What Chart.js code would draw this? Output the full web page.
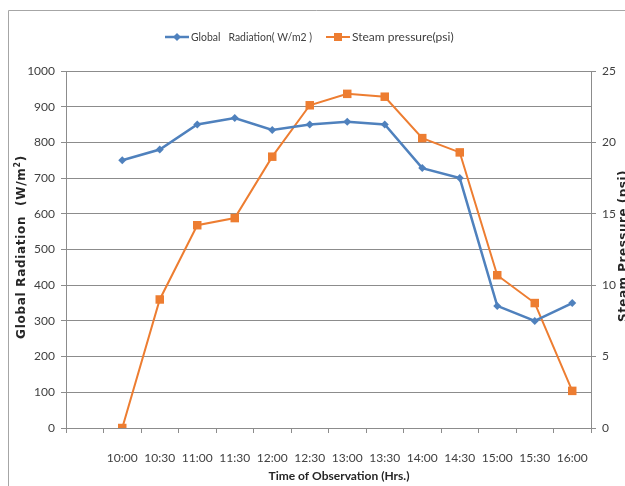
<!DOCTYPE html>
<html>
<head>
<meta charset="utf-8">
<script src="https://cdn.jsdelivr.net/npm/chart.js@4/dist/chart.umd.min.js"></script>
<style>
  html, body { margin: 0; padding: 0; background: #ffffff; }
  #wrap { width: 625px; height: 486px; position: relative; }
</style>
</head>
<body>
<div id="wrap"><canvas id="c" width="625" height="486"></canvas></div>
<script>
// Observation times (first slot is an empty lead-in category)
const times = ['', '10:00', '10:30', '11:00', '11:30', '12:00', '12:30', '13:00',
               '13:30', '14:00', '14:30', '15:00', '15:30', '16:00'];
// Global radiation, W/m2
const radiation = [null, 750, 780, 850, 868, 835, 850, 858, 850, 728, 700, 342, 300, 350];
// Steam pressure, psi
const pressure = [null, 0, 9.0, 14.2, 14.7, 19.0, 22.6, 23.4, 23.2, 20.3, 19.3, 10.7, 8.75, 2.6];

const radiationLabel = 'Global   Radiation( W/m2 )';
const pressureLabel = 'Steam pressure(psi)';
const xTitle = 'Time of Observation (Hrs.)';
const leftTitle = ['Global Radiation  (W/m', '2', ')'];
const rightTitle = 'Steam Pressure (psi)';

const BLUE = '#4F81BD';
const ORANGE = '#ED7D31';
const GRID = '#8C8C8C';
const TEXT = '#404040';
const baseFont = 'Lato, "Open Sans", sans-serif';
const titleFont = 'bold 12px "DejaVu Sans", Verdana, sans-serif';
const supFont = 'bold 8px "DejaVu Sans", Verdana, sans-serif';

// Frame, legend and axis titles drawn on top of the chart
const decorations = {
  id: 'decorations',
  afterDraw(chart) {
    const ctx = chart.ctx;
    ctx.save();

    // outer frame (top and left edges)
    ctx.strokeStyle = '#A6A6A6';
    ctx.lineWidth = 1;
    ctx.beginPath();
    ctx.moveTo(8.5, 486);
    ctx.lineTo(8.5, 10.5);
    ctx.lineTo(625, 10.5);
    ctx.stroke();

    // legend
    const ly = 37;
    ctx.lineWidth = 2.5;
    ctx.strokeStyle = BLUE;
    ctx.beginPath(); ctx.moveTo(165, ly); ctx.lineTo(189, ly); ctx.stroke();
    ctx.fillStyle = BLUE;
    ctx.beginPath();
    ctx.moveTo(177, ly - 4); ctx.lineTo(181, ly); ctx.lineTo(177, ly + 4); ctx.lineTo(173, ly);
    ctx.closePath(); ctx.fill();

    ctx.lineWidth = 2;
    ctx.strokeStyle = ORANGE;
    ctx.beginPath(); ctx.moveTo(326, ly); ctx.lineTo(350, ly); ctx.stroke();
    ctx.fillStyle = ORANGE;
    ctx.fillRect(334, ly - 4, 8, 8);

    ctx.font = '12px ' + baseFont;
    ctx.fillStyle = TEXT;
    ctx.textBaseline = 'middle';
    ctx.textAlign = 'left';
    ctx.fillText(radiationLabel, 191, ly, 121);
    ctx.fillText(pressureLabel, 352, ly, 128);

    // x axis title
    ctx.font = 'bold 12px ' + baseFont;
    ctx.fillStyle = '#262626';
    ctx.textAlign = 'center';
    ctx.fillText(xTitle, 339, 476, 164);

    // left axis title with superscript
    ctx.save();
    ctx.translate(22, 247);
    ctx.rotate(-Math.PI / 2);
    ctx.letterSpacing = '0.7px';
    ctx.font = titleFont;
    const w0 = ctx.measureText(leftTitle[0]).width;
    ctx.font = supFont;
    const w1 = ctx.measureText(leftTitle[1]).width;
    ctx.font = titleFont;
    const w2 = ctx.measureText(leftTitle[2]).width;
    let x = -(w0 + w1 + w2) / 2;
    ctx.textAlign = 'left';
    ctx.fillText(leftTitle[0], x, 0);
    x += w0;
    ctx.font = supFont;
    ctx.fillText(leftTitle[1], x, -4);
    x += w1;
    ctx.font = titleFont;
    ctx.fillText(leftTitle[2], x, 0);
    ctx.restore();

    // right axis title (reads bottom to top, runs off the edge)
    ctx.save();
    ctx.translate(624, 246);
    ctx.rotate(-Math.PI / 2);
    ctx.letterSpacing = '0.5px';
    ctx.font = titleFont;
    ctx.textAlign = 'center';
    ctx.fillText(rightTitle, 0, 0);
    ctx.restore();

    ctx.restore();
  }
};

new Chart(document.getElementById('c'), {
  type: 'line',
  data: {
    labels: times,
    datasets: [
      {
        label: radiationLabel,
        data: radiation,
        yAxisID: 'y',
        borderColor: BLUE,
        backgroundColor: BLUE,
        borderWidth: 2.5,
        pointStyle: 'rectRot',
        pointRadius: 4,
        pointBorderWidth: 0,
        tension: 0
      },
      {
        label: pressureLabel,
        data: pressure,
        yAxisID: 'y1',
        borderColor: ORANGE,
        backgroundColor: ORANGE,
        borderWidth: 2,
        pointStyle: 'rect',
        pointRadius: 6,
        pointBorderWidth: 0,
        tension: 0
      }
    ]
  },
  options: {
    responsive: false,
    animation: false,
    devicePixelRatio: 1,
    layout: { padding: { top: 71, left: 0, right: 0, bottom: 0 } },
    plugins: {
      legend: { display: false },
      tooltip: { enabled: false }
    },
    scales: {
      x: {
        type: 'category',
        offset: true,
        border: { display: true, color: GRID, width: 1 },
        grid: {
          offset: true,
          drawOnChartArea: false,
          drawTicks: true,
          tickLength: 5,
          color: GRID
        },
        ticks: {
          color: TEXT,
          font: { family: baseFont, size: 12 },
          padding: 18,
          maxRotation: 0,
          autoSkip: false
        },
        afterFit(scale) { scale.height = 58; }
      },
      y: {
        position: 'left',
        min: 0,
        max: 1000,
        border: { display: true, color: GRID, width: 1 },
        grid: { color: GRID, tickLength: 5, lineWidth: 1 },
        ticks: {
          stepSize: 100,
          color: TEXT,
          font: { family: baseFont, size: 12 },
          padding: 6,
          callback: (v) => String(v)
        },
        afterFit(scale) { scale.width = 66; }
      },
      y1: {
        position: 'right',
        min: 0,
        max: 25,
        border: { display: true, color: GRID, width: 1 },
        grid: { drawOnChartArea: false, color: GRID, tickLength: 5 },
        ticks: {
          stepSize: 5,
          color: TEXT,
          font: { family: baseFont, size: 12 },
          padding: 6,
          callback: (v) => String(v)
        },
        afterFit(scale) { scale.width = 34; }
      }
    }
  },
  plugins: [decorations]
});
</script>
</body>
</html>
